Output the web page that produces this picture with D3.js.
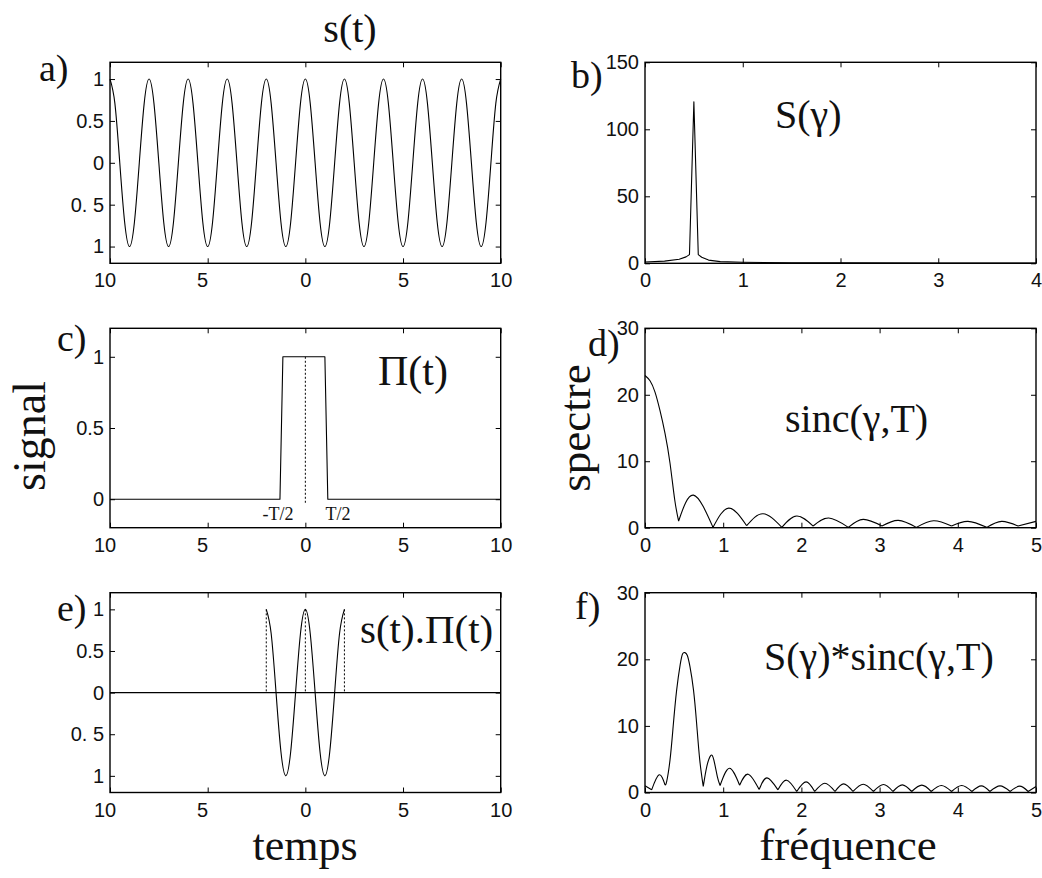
<!DOCTYPE html>
<html><head><meta charset="utf-8">
<script src="https://cdn.jsdelivr.net/npm/d3@7"></script>
<style>body{margin:0;background:#fff}</style>
</head><body>
<svg id="chart" width="1042" height="878"></svg>
<script>
// ---------- tick values & labels ----------
const timeTicks = [-10, -5, 0, 5, 10];
const timeTickLabels = ["10", "5", "0", "5", "10"];
const sigTicks = [-1, -0.5, 0, 0.5, 1];
const sigTickLabels = ["1", "0. 5", "0", "0.5", "1"];
const rectTicks = [0, 0.5, 1];
const rectTickLabels = ["0", "0.5", "1"];
const freqTicksB = [0, 1, 2, 3, 4];
const freqTicksDF = [0, 1, 2, 3, 4, 5];
const specTicksB = [0, 50, 100, 150];
const specTicksDF = [0, 10, 20, 30];

// ---------- a) s(t) ----------
const tA = [-10,-9.75,-9.5,-9.25,-9,-8.75,-8.5,-8.25,-8,-7.75,-7.5,-7.25,-7,-6.75,-6.5,-6.25,
  -6,-5.75,-5.5,-5.25,-5,-4.75,-4.5,-4.25,-4,-3.75,-3.5,-3.25,-3,-2.75,-2.5,-2.25,
  -2,-1.75,-1.5,-1.25,-1,-0.75,-0.5,-0.25,0,0.25,0.5,0.75,1,1.25,1.5,1.75,
  2,2.25,2.5,2.75,3,3.25,3.5,3.75,4,4.25,4.5,4.75,5,5.25,5.5,5.75,
  6,6.25,6.5,6.75,7,7.25,7.5,7.75,8,8.25,8.5,8.75,9,9.25,9.5,9.75,10];
const sA = [1,0.71,0,-0.71,-1,-0.71,0,0.71, 1,0.71,0,-0.71,-1,-0.71,0,0.71,
  1,0.71,0,-0.71,-1,-0.71,0,0.71, 1,0.71,0,-0.71,-1,-0.71,0,0.71,
  1,0.71,0,-0.71,-1,-0.71,0,0.71, 1,0.71,0,-0.71,-1,-0.71,0,0.71,
  1,0.71,0,-0.71,-1,-0.71,0,0.71, 1,0.71,0,-0.71,-1,-0.71,0,0.71,
  1,0.71,0,-0.71,-1,-0.71,0,0.71, 1,0.71,0,-0.71,-1,-0.71,0,0.71, 1];

// ---------- b) S(gamma) ----------
const fB = [0, 0.2, 0.35, 0.42, 0.455, 0.5, 0.545, 0.58, 0.65, 0.77, 1.0, 1.5, 2, 3, 4];
const SB = [1.0, 1.6, 3.0, 4.8, 6.5, 120.5, 6.5, 4.5, 2.4, 1.25, 0.75, 0.45, 0.35, 0.25, 0.2];

// ---------- c) Pi(t) ----------
const tC = [-10, -1.3, -1.15, 1.0, 1.15, 10];
const pC = [0, 0, 1, 1, 0, 0];
const cDashX = [0];
const cDashTop = [1];
const cDashBottom = [-0.025];

// ---------- d) sinc ----------
const fD = [0, 0.064, 0.128, 0.192, 0.256, 0.32, 0.38, 0.43, 0.62, 0.87, 1.07, 1.3, 1.51, 1.75,
  1.94, 2.15, 2.35, 2.6, 2.79, 3.03, 3.24, 3.47, 3.69, 3.92, 4.13, 4.37, 4.56, 4.77, 5.0];
const SD = [22.9, 22.1, 20.4, 17.6, 14.2, 9.7, 4.2, 1.0, 4.9, 0.05, 2.95, 0.3, 2.1, 0.05,
  1.75, 0.25, 1.45, 0.05, 1.25, 0.25, 1.1, 0.05, 1.05, 0.25, 0.95, 0.05, 0.95, 0.25, 0.95];

// ---------- e) s(t).Pi(t) ----------
const tE = [-2,-1.75,-1.5,-1.25,-1,-0.75,-0.5,-0.25,0,0.25,0.5,0.75,1,1.25,1.5,1.75,2];
const sE = [1,0.71,0,-0.71,-1,-0.71,0,0.71,1,0.71,0,-0.71,-1,-0.71,0,0.71,1];
const eZeroX = [-10, 10];
const eZeroY = [0, 0];
const eDashX = [-2, 0, 2];
const eDashTop = [1, 1, 1];
const eDashBottom = [0, 0, 0];

// ---------- f) convolution ----------
const fF = [0, 0.085, 0.18, 0.256, 0.277, 0.32, 0.36, 0.405, 0.45, 0.48, 0.51, 0.54, 0.575, 0.62,
  0.66, 0.7, 0.745, 0.79, 0.84, 0.88, 0.925, 0.96, 1.08, 1.21, 1.32, 1.46, 1.56, 1.7, 1.81,
  1.94, 2.06, 2.17, 2.3, 2.43, 2.54, 2.66, 2.79, 2.92, 3.05, 3.17, 3.29, 3.41, 3.54, 3.66,
  3.79, 3.92, 4.05, 4.18, 4.3, 4.41, 4.54, 4.67, 4.79, 4.9, 5.0];
const SF = [1.0, 0.4, 2.65, 1.15, 1.65, 4.9, 9.9, 15.4, 19.2, 20.8, 21.0, 20.6, 18.9, 15.4,
  10.4, 4.9, 0.9, 3.9, 5.55, 4.9, 2.4, 1.05, 3.65, 1.1, 2.75, 0.45, 2.2, 0.4, 1.85,
  0.15, 1.6, 0.15, 1.4, 0.15, 1.3, 0.15, 1.25, 0.15, 1.2, 0.15, 1.15, 0.15, 1.1, 0.15,
  1.05, 0.15, 1.05, 0.15, 1.0, 0.15, 1.0, 0.15, 0.95, 0.15, 0.9];

// ================= drawing =================
const svg = d3.select("#chart");
const SERIF = '"Liberation Serif"';
const SANS = '"Liberation Sans"';

function panel(cfg) {
  const g = svg.append("g");
  const x = d3.scaleLinear().domain(cfg.xd).range([cfg.x0, cfg.x1]);
  const y = d3.scaleLinear().domain(cfg.yd).range([cfg.y1, cfg.y0]);
  const styleAxis = a => {
    a.attr("font-size", null).attr("font-family", null);
    a.select(".domain").remove();
    a.selectAll(".tick line").attr("stroke", "#000").attr("stroke-width", 1);
    a.selectAll(".tick text").attr("fill", "#111")
      .style("font-family", SANS).style("font-size", "20px");
  };
  g.append("g").attr("transform", `translate(0,${cfg.y1})`)
    .call(d3.axisBottom(x).tickValues(cfg.xt).tickFormat((d, i) => cfg.xl[i])
      .tickSizeInner(-5).tickSizeOuter(0).tickPadding(10))
    .call(styleAxis)
    .call(a => a.selectAll(".tick text").attr("dx", d => d < 0 ? -5.5 : 0));
  g.append("g").attr("transform", `translate(0,${cfg.y0})`)
    .call(d3.axisTop(x).tickValues(cfg.xt).tickFormat(() => "")
      .tickSizeInner(-5).tickSizeOuter(0))
    .call(styleAxis);
  g.append("g").attr("transform", `translate(${cfg.x0},0)`)
    .call(d3.axisLeft(y).tickValues(cfg.yt).tickFormat((d, i) => cfg.yl[i])
      .tickSizeInner(-5).tickSizeOuter(0).tickPadding(6))
    .call(styleAxis);
  g.append("g").attr("transform", `translate(${cfg.x1},0)`)
    .call(d3.axisRight(y).tickValues(cfg.yt).tickFormat(() => "")
      .tickSizeInner(-5).tickSizeOuter(0))
    .call(styleAxis);
  g.append("rect").attr("x", cfg.x0).attr("y", cfg.y0)
    .attr("width", cfg.x1 - cfg.x0).attr("height", cfg.y1 - cfg.y0)
    .attr("fill", "none").attr("stroke", "#000").attr("stroke-width", 1.4);
  return {g, x, y};
}

function drawLine(p, xs, ys, curve) {
  const pts = xs.map((v, i) => [v, ys[i]]);
  const line = d3.line().x(d => p.x(d[0])).y(d => p.y(d[1])).curve(curve);
  return p.g.append("path").attr("d", line(pts)).attr("fill", "none")
    .attr("stroke", "#000").attr("stroke-width", 1.1).attr("stroke-linejoin", "round");
}

// spectral curve with sharp corners at local minima, smooth arches elsewhere
function drawArches(p, xs, ys) {
  const pts = xs.map((v, i) => [v, ys[i]]);
  const pieces = [];
  let cur = [pts[0]];
  for (let i = 1; i < pts.length; i++) {
    cur.push(pts[i]);
    const isMin = i < pts.length - 1 && ys[i] < ys[i - 1] && ys[i] < ys[i + 1];
    if (isMin) { pieces.push(cur); cur = [pts[i]]; }
  }
  if (cur.length > 1) pieces.push(cur);
  const line = d3.line().x(d => p.x(d[0])).y(d => p.y(d[1])).curve(d3.curveNatural);
  p.g.append("path").attr("d", pieces.map(pc => line(pc)).join(""))
    .attr("fill", "none").attr("stroke", "#000").attr("stroke-width", 1.1)
    .attr("stroke-linejoin", "round");
}

function dashed(p, xs, top, bottom) {
  p.g.selectAll(null).data(xs).join("line")
    .attr("x1", d => p.x(d)).attr("x2", d => p.x(d))
    .attr("y1", (d, i) => p.y(top[i])).attr("y2", (d, i) => p.y(bottom[i]))
    .attr("stroke", "#000").attr("stroke-width", 1).attr("stroke-dasharray", "2,2");
}

function text(str, x, y, size, opts = {}) {
  const t = svg.append("text").text(str).attr("x", x).attr("y", y)
    .style("font-family", SERIF).style("font-size", size + "px")
    .attr("fill", "#111").attr("text-anchor", opts.anchor || "start");
  if (opts.rotate) t.attr("x", 0).attr("y", 0)
    .attr("transform", `translate(${x},${y}) rotate(-90)`);
  return t;
}

const L = {x0: 110, x1: 500.7}, R = {x0: 645, x1: 1036};
const row1 = {y0: 62.3, y1: 263.3}, row2 = {y0: 328.3, y1: 527.7}, row3 = {y0: 592.7, y1: 792.5};

// a
const pa = panel({...L, ...row1, xd: [-10, 10], yd: [-1.2, 1.2],
  xt: timeTicks, xl: timeTickLabels, yt: sigTicks, yl: sigTickLabels});
drawLine(pa, tA, sA, d3.curveNatural);

// b
const pb = panel({...R, ...row1, xd: [0, 4], yd: [0, 150],
  xt: freqTicksB, xl: freqTicksB.map(String), yt: specTicksB, yl: specTicksB.map(String)});
drawLine(pb, fB, SB, d3.curveLinear);

// c
const pc = panel({...L, ...row2, xd: [-10, 10], yd: [-0.2, 1.2],
  xt: timeTicks, xl: timeTickLabels, yt: rectTicks, yl: rectTickLabels});
dashed(pc, cDashX, cDashTop, cDashBottom);
drawLine(pc, tC, pC, d3.curveLinear);

// d
const pd = panel({...R, ...row2, xd: [0, 5], yd: [0, 30],
  xt: freqTicksDF, xl: freqTicksDF.map(String), yt: specTicksDF, yl: specTicksDF.map(String)});
drawArches(pd, fD, SD);

// e
const pe = panel({...L, ...row3, xd: [-10, 10], yd: [-1.2, 1.2],
  xt: timeTicks, xl: timeTickLabels, yt: sigTicks, yl: sigTickLabels});
drawLine(pe, eZeroX, eZeroY, d3.curveLinear);
dashed(pe, eDashX, eDashTop, eDashBottom);
drawLine(pe, tE, sE, d3.curveNatural);

// f
const pf = panel({...R, ...row3, xd: [0, 5], yd: [0, 30],
  xt: freqTicksDF, xl: freqTicksDF.map(String), yt: specTicksDF, yl: specTicksDF.map(String)});
drawArches(pf, fF, SF);

// ---------- texts ----------
text("s(t)", 350, 42, 40, {anchor: "middle"});
text("a)", 39, 81, 38);
text("b)", 571, 88, 38);
text("c)", 57, 351, 38);
text("d)", 588, 356, 38);
text("e)", 57, 621, 38);
text("f)", 575, 619, 38);

text("S(\u03b3)", 775, 128, 40);
text("\u03a0(t)", 378, 385, 42);
text("sinc(\u03b3,T)", 785, 432, 40);
text("s(t).\u03a0(t)", 360, 643, 41);
text("S(\u03b3)*sinc(\u03b3,T)", 764, 670, 40);

text("-T/2", 278, 520, 18, {anchor: "middle"});
text("T/2", 338, 520, 18, {anchor: "middle"});

text("signal", 45, 436, 46, {anchor: "middle", rotate: true});
text("spectre", 590, 428, 45, {anchor: "middle", rotate: true});
text("temps", 305, 860, 44, {anchor: "middle"});
text("fr\u00e9quence", 848, 860, 45, {anchor: "middle"});
</script>
</body></html>
